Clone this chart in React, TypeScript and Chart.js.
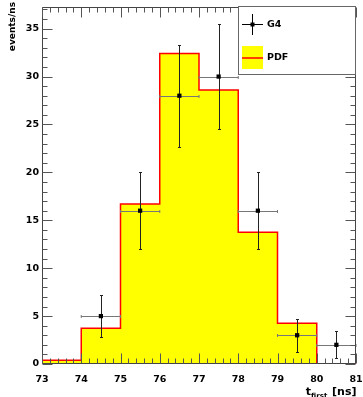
import React, { useEffect, useRef } from "react";
import { Chart, registerables } from "chart.js";

Chart.register(...registerables);

// Histogram (PDF): lower bin edges and bin contents (events/ns)
const binEdges = [73, 74, 75, 76, 77, 78, 79, 80, 81];
const pdfValues = [0.4, 3.73, 16.7, 32.4, 28.6, 13.75, 4.25, 0];

// G4 points with errors
const g4X = [74.5, 75.5, 76.5, 77.5, 78.5, 79.5, 80.5];
const g4Y = [5, 16, 28, 30, 16, 3, 2];
const g4ErrLow = [2.2, 4, 5.3, 5.5, 4, 1.7, 1.4];
const g4ErrHigh = [2.2, 4, 5.3, 5.5, 4, 1.7, 1.4];
const g4XErr = [0.5, 0.5, 0.5, 0.5, 0.5, 0.5, 0.5];

const xMin = 73;
const xMax = 81;
const yMin = 0;
const yMax = 37.26;

const seriesLabels = ["G4", "PDF"];
const yTitle = "events/ns";
const xTitleMain = "t";
const xTitleSub = "first";
const xTitleUnit = "[ns]";

const FONT = "'DejaVu Sans', sans-serif";

const rootPlugin = {
  id: "rootStyle",
  afterDatasetDraw(chart: any, args: any) {
    if (args.index !== 1) return;
    const ctx = chart.ctx;
    const xs = chart.scales.x;
    const ys = chart.scales.y;
    ctx.save();
    ctx.lineWidth = 1;
    for (let i = 0; i < g4X.length; i++) {
      const px = Math.round(xs.getPixelForValue(g4X[i])) + 0.5;
      const py = Math.round(ys.getPixelForValue(g4Y[i])) + 0.5;
      const xl = xs.getPixelForValue(g4X[i] - g4XErr[i]);
      const xr = xs.getPixelForValue(g4X[i] + g4XErr[i]);
      const yt = Math.round(ys.getPixelForValue(g4Y[i] + g4ErrHigh[i])) + 0.5;
      const yb = Math.round(ys.getPixelForValue(Math.max(0, g4Y[i] - g4ErrLow[i]))) + 0.5;
      // horizontal
      ctx.strokeStyle = "#777";
      ctx.beginPath();
      ctx.moveTo(xl, py);
      ctx.lineTo(xr, py);
      ctx.moveTo(xl, py - 1.5);
      ctx.lineTo(xl, py + 1.5);
      ctx.moveTo(xr, py - 1.5);
      ctx.lineTo(xr, py + 1.5);
      ctx.stroke();
      // vertical
      ctx.strokeStyle = "#222";
      ctx.beginPath();
      ctx.moveTo(px, yt);
      ctx.lineTo(px, yb);
      ctx.moveTo(px - 1.5, yt);
      ctx.lineTo(px + 1.5, yt);
      ctx.moveTo(px - 1.5, yb);
      ctx.lineTo(px + 1.5, yb);
      ctx.stroke();
    }
    ctx.restore();
  },
  afterDraw(chart: any) {
    const ctx = chart.ctx;
    const xs = chart.scales.x;
    const ys = chart.scales.y;
    const a = chart.chartArea;
    const L = Math.round(a.left) + 0.5;
    const R = Math.round(a.right) - 0.5;
    const T = Math.round(a.top) + 0.5;
    const B = Math.round(a.bottom) - 0.5;
    ctx.save();
    ctx.lineWidth = 1;
    ctx.strokeStyle = "#444";
    ctx.beginPath();
    ctx.rect(L, T, R - L, B - T);
    ctx.stroke();

    // x ticks (bottom & top), minor every 0.2
    ctx.strokeStyle = "#555";
    ctx.beginPath();
    for (let k = 0; k <= Math.round((xMax - xMin) * 5); k++) {
      const v = xMin + k * 0.2;
      const major = k % 5 === 0;
      const len = major ? 10 : 5;
      const px = Math.round(xs.getPixelForValue(v)) + 0.5;
      ctx.moveTo(px, B);
      ctx.lineTo(px, B - len);
      ctx.moveTo(px, T);
      ctx.lineTo(px, T + len);
    }
    // y ticks (left & right), minor every 1
    for (let v = 0; v <= yMax; v += 1) {
      const major = v % 5 === 0;
      const len = major ? 10 : 5;
      const py = Math.round(ys.getPixelForValue(v)) + 0.5;
      ctx.moveTo(L, py);
      ctx.lineTo(L + len, py);
      ctx.moveTo(R, py);
      ctx.lineTo(R - len, py);
    }
    ctx.stroke();

    // y title (rotated)
    ctx.fillStyle = "#000";
    ctx.font = `bold 9px ${FONT}`;
    ctx.save();
    ctx.translate(13, 2);
    ctx.rotate(-Math.PI / 2);
    ctx.textAlign = "right";
    ctx.textBaseline = "middle";
    ctx.fillText(yTitle, 0, 0);
    ctx.restore();

    // x title with subscript, right aligned at frame right
    ctx.textBaseline = "alphabetic";
    ctx.textAlign = "left";
    const mainFont = `bold 11px ${FONT}`;
    const subFont = `bold 7px ${FONT}`;
    ctx.font = mainFont;
    const wT = ctx.measureText(xTitleMain).width;
    const wU = ctx.measureText(" " + xTitleUnit).width;
    ctx.font = subFont;
    const wS = ctx.measureText(xTitleSub).width;
    const total = wT + wS + 1 + wU;
    let tx = R + 1 - total;
    const base = 395;
    ctx.font = mainFont;
    ctx.fillText(xTitleMain, tx, base);
    tx += wT;
    ctx.font = subFont;
    ctx.fillText(xTitleSub, tx, base + 2.5);
    tx += wS + 1;
    ctx.font = mainFont;
    ctx.fillText(" " + xTitleUnit, tx, base);

    // legend box
    const lx0 = 238.5, ly0 = 6.5, lx1 = R, ly1 = 74.5;
    ctx.fillStyle = "#fff";
    ctx.fillRect(lx0, ly0, lx1 - lx0, ly1 - ly0);
    ctx.strokeStyle = "#666";
    ctx.strokeRect(lx0, ly0, lx1 - lx0, ly1 - ly0);
    // G4 entry
    ctx.strokeStyle = "#000";
    ctx.beginPath();
    ctx.moveTo(242, 24.5);
    ctx.lineTo(263, 24.5);
    ctx.moveTo(252.5, 14);
    ctx.lineTo(252.5, 35);
    ctx.stroke();
    ctx.fillStyle = "#000";
    ctx.fillRect(250.5, 22.5, 4, 4);
    ctx.font = `bold 9.5px ${FONT}`;
    ctx.textBaseline = "middle";
    ctx.fillText(seriesLabels[0], 267, 24.5);
    // PDF entry
    ctx.fillStyle = "#ffff00";
    ctx.fillRect(242, 46, 21, 23);
    ctx.strokeStyle = "#ff0000";
    ctx.lineWidth = 1.5;
    ctx.beginPath();
    ctx.moveTo(242, 58);
    ctx.lineTo(263, 58);
    ctx.stroke();
    ctx.fillStyle = "#000";
    ctx.fillText(seriesLabels[1], 267, 58);
    ctx.restore();
  },
};

export default function App() {
  const ref = useRef<HTMLCanvasElement | null>(null);
  useEffect(() => {
    document.body.style.margin = "0";
    const canvas = ref.current;
    if (!canvas) return;
    const histData = binEdges.map((x, i) => ({
      x,
      y: i < pdfValues.length ? pdfValues[i] : 0,
    }));
    const pointData = g4X.map((x, i) => ({ x, y: g4Y[i] }));
    const tickFont = { family: FONT, weight: "bold" as const, size: 9.5 };
    const chart = new Chart(canvas, {
      type: "scatter",
      data: {
        datasets: [
          {
            type: "scatter",
            label: seriesLabels[0],
            data: pointData,
            pointStyle: "rect",
            pointRadius: 3,
            pointBackgroundColor: "#000",
            pointBorderColor: "#000",
            borderWidth: 0,
          } as any,
          {
            type: "line",
            label: seriesLabels[1],
            data: histData,
            stepped: "before",
            fill: "origin",
            backgroundColor: "#ffff00",
            borderColor: "#ff0000",
            borderWidth: 1.5,
            pointRadius: 0,
            tension: 0,
          } as any,
        ],
      },
      options: {
        responsive: false,
        animation: false,
        layout: { padding: { top: 7, right: 7, left: 0, bottom: 0 } },
        plugins: {
          legend: { display: false },
          tooltip: { enabled: false },
        },
        scales: {
          x: {
            type: "linear",
            min: xMin,
            max: xMax,
            grid: { display: false, drawTicks: false },
            border: { display: false },
            ticks: {
              stepSize: 1,
              color: "#000",
              font: tickFont,
              padding: 10,
              maxRotation: 0,
            },
            afterFit(scale: any) {
              scale.height = 33;
              scale.paddingLeft = 0;
              scale.paddingRight = 0;
            },
          },
          y: {
            type: "linear",
            min: yMin,
            max: yMax,
            grid: { display: false, drawTicks: false },
            border: { display: false },
            ticks: {
              stepSize: 5,
              includeBounds: false,
              color: "#000",
              font: tickFont,
              padding: 3,
            },
            afterFit(scale: any) {
              scale.width = 42;
              scale.paddingTop = 0;
              scale.paddingBottom = 0;
            },
          },
        },
      },
      plugins: [rootPlugin],
    });
    return () => chart.destroy();
  }, []);
  return (
    <div style={{ width: 363, height: 397, background: "#fff" }}>
      <canvas ref={ref} width={363} height={397} style={{ display: "block" }} />
    </div>
  );
}
